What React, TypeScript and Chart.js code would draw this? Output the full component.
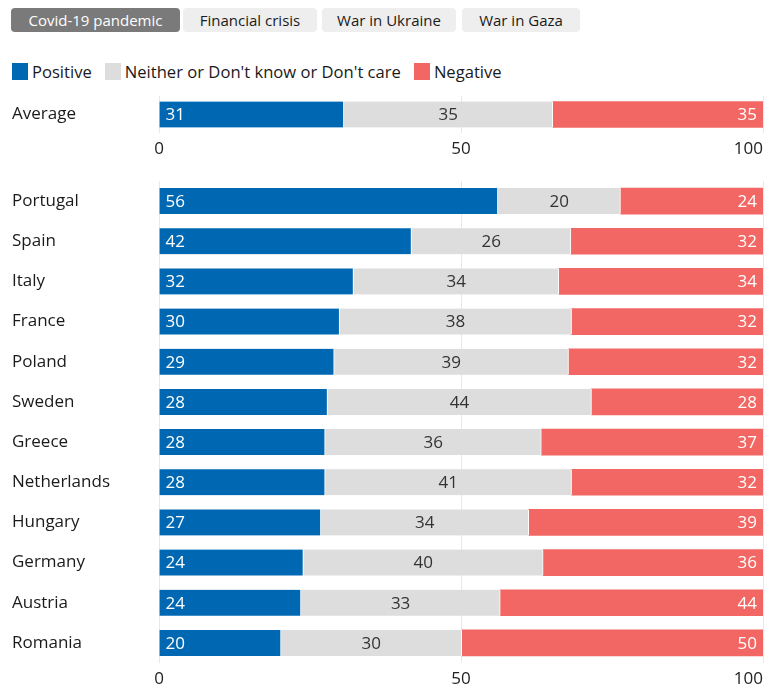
import React, { useEffect, useRef } from "react";
import { Chart, registerables } from "chart.js";

Chart.register(...registerables);

const FONT = "'Open Sans', sans-serif";

const tabs = ["Covid-19 pandemic", "Financial crisis", "War in Ukraine", "War in Gaza"];
const seriesNames = ["Positive", "Neither or Don't know or Don't care", "Negative"];
const seriesColors = ["#0068b3", "#dddddd", "#f26763"];
const valueColors = ["#ffffff", "#333333", "#ffffff"];

const averageLabels = ["Average"];
const averagePositive = [30.6];
const averageNeither = [34.6];
const averageNegative = [34.8];

const countries = [
  "Portugal", "Spain", "Italy", "France", "Poland", "Sweden",
  "Greece", "Netherlands", "Hungary", "Germany", "Austria", "Romania",
];
const positive = [56.1, 41.8, 32.2, 29.9, 29.0, 27.9, 27.5, 27.5, 26.8, 23.9, 23.5, 20.2];
const neither = [20.3, 26.4, 34.0, 38.4, 38.8, 43.7, 35.8, 40.8, 34.4, 39.7, 33.0, 29.9];
const negative = [23.6, 31.8, 33.8, 31.7, 32.2, 28.4, 36.7, 31.7, 38.8, 36.4, 43.5, 49.9];

const xTickValues = [0, 50, 100];

const valueLabels = {
  id: "valueLabels",
  afterDatasetsDraw(chart: any) {
    const ctx = chart.ctx;
    ctx.save();
    ctx.font = `17px ${FONT}`;
    ctx.textBaseline = "middle";
    chart.data.datasets.forEach((ds: any, di: number) => {
      const meta = chart.getDatasetMeta(di);
      meta.data.forEach((bar: any, i: number) => {
        const v = ds.data[i];
        const p = bar.getProps(["x", "base", "y"], true);
        const left = Math.min(p.x, p.base);
        const right = Math.max(p.x, p.base);
        ctx.fillStyle = valueColors[di];
        let tx = 0;
        if (di === 0) {
          ctx.textAlign = "left";
          tx = left + 6;
        } else if (di === 1) {
          ctx.textAlign = "center";
          tx = (left + right) / 2;
        } else {
          ctx.textAlign = "right";
          tx = right - 6;
        }
        ctx.fillText(String(Math.round(v)), tx, p.y + 1);
      });
    });
    ctx.restore();
  },
};

function buildConfig(labels: string[], pos: number[], nei: number[], neg: number[], padTop: number): any {
  const sets = [pos, nei, neg];
  return {
    type: "bar",
    data: {
      labels,
      datasets: sets.map((d, i) => ({
        label: seriesNames[i],
        data: d,
        backgroundColor: seriesColors[i],
        borderColor: "#ffffff",
        borderWidth: i < 2 ? { top: 0, bottom: 0, left: 0, right: 1 } : 0,
        borderSkipped: false,
        barThickness: 26,
      })),
    },
    options: {
      indexAxis: "y",
      responsive: false,
      animation: false,
      layout: { padding: { left: 12, right: 4, top: padTop, bottom: 0 } },
      plugins: { legend: { display: false }, tooltip: { enabled: false } },
      scales: {
        x: {
          stacked: true,
          min: 0,
          max: 100,
          afterBuildTicks: (s: any) => {
            s.ticks = xTickValues.map((v) => ({ value: v }));
          },
          ticks: {
            autoSkip: false,
            maxRotation: 0,
            padding: 8,
            color: "#222222",
            font: { family: FONT, size: 17, lineHeight: 1 },
            callback: (v: any) => (v === 100 ? "100\u2007\u2007\u2007" : String(v)),
          },
          grid: { color: "#e8e8e8", drawTicks: false },
          border: { display: false },
          afterFit: (s: any) => {
            s.paddingRight = 0;
            s.paddingLeft = 0;
            s.height = 21;
          },
        },
        y: {
          stacked: true,
          ticks: {
            crossAlign: "far",
            padding: 0,
            color: "#1a1a1a",
            font: { family: FONT, size: 17 },
          },
          grid: { display: false },
          border: { display: false },
          afterFit: (s: any) => {
            s.width = 147;
            s.paddingTop = 0;
            s.paddingBottom = 0;
          },
        },
      },
    },
    plugins: [valueLabels],
  };
}

function BarCanvas(props: { height: number; top: number; padTop: number; labels: string[]; pos: number[]; nei: number[]; neg: number[] }) {
  const ref = useRef<HTMLCanvasElement | null>(null);
  useEffect(() => {
    if (!ref.current) return;
    const chart = new Chart(ref.current, buildConfig(props.labels, props.pos, props.nei, props.neg, props.padTop));
    return () => chart.destroy();
  }, []);
  return (
    <canvas
      ref={ref}
      width={767}
      height={props.height}
      style={{ position: "absolute", left: 0, top: props.top, width: 767, height: props.height }}
    />
  );
}

const tabLefts = [11, 183, 322, 462];
const tabWidths = [169, 134, 134, 118];

export default function App() {
  useEffect(() => {
    document.body.style.margin = "0";
    document.body.style.overflow = "hidden";
  }, []);
  return (
    <div style={{ position: "relative", width: 767, height: 684, background: "#fff", fontFamily: FONT, color: "#1a1a1a" }}>
      {tabs.map((t, i) => (
        <div
          key={t}
          style={{
            position: "absolute",
            left: tabLefts[i],
            top: 8,
            width: tabWidths[i],
            height: 24,
            lineHeight: "24px",
            borderRadius: 4,
            background: i === 0 ? "#7a7a7a" : "#eeeeee",
            color: i === 0 ? "#ffffff" : "#1a1a1a",
            fontSize: 15,
            textAlign: "center",
            whiteSpace: "nowrap",
          }}
        >
          {t}
        </div>
      ))}
      <div style={{ position: "absolute", left: 12, top: 62, height: 18, display: "flex", alignItems: "center", fontSize: 16.6 }}>
        {seriesNames.map((n, i) => (
          <div key={n} style={{ display: "flex", alignItems: "center", marginRight: 13 }}>
            <span style={{ display: "inline-block", width: 16, height: 17, background: seriesColors[i], marginRight: 4 }} />
            <span style={{ whiteSpace: "nowrap" }}>{n}</span>
          </div>
        ))}
      </div>
      <BarCanvas top={95} height={59} padTop={1} labels={averageLabels} pos={averagePositive} nei={averageNeither} neg={averageNegative} />
      <BarCanvas top={176} height={508} padTop={5} labels={countries} pos={positive} nei={neither} neg={negative} />
    </div>
  );
}
